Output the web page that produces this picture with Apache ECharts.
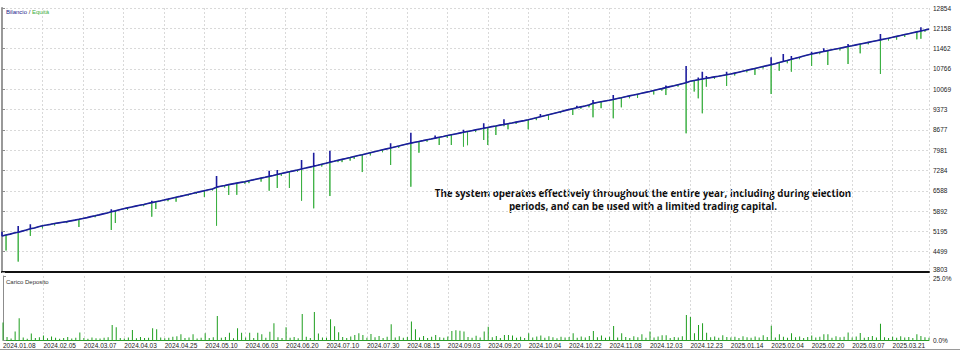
<!DOCTYPE html>
<html>
<head>
<meta charset="utf-8">
<title>Bilancio / Equità</title>
<script src="https://cdn.jsdelivr.net/npm/echarts@6/dist/echarts.min.js"></script>
<style>
	html, body {margin: 0; padding: 0; background: #fff;}
	#chart {width: 960px; height: 355px;}
</style>
</head>
<body>
<div id="chart"></div>
<script>
// date labels, one every 10 deals
var xLabels = ['2024.01.08','2024.02.05','2024.03.07','2024.04.03','2024.04.25','2024.05.10','2024.06.03','2024.06.20',
	'2024.07.10','2024.07.30','2024.08.15','2024.09.03','2024.09.20','2024.10.04','2024.10.22','2024.11.08',
	'2024.12.03','2024.12.23','2025.01.14','2025.02.04','2025.02.20','2025.03.07','2025.03.21'];
var yLabels = ['3803','4499','5195','5892','6588','7284','7981','8677','9373','10069','10766','11462','12158','12854'];

// balance after each deal
var balance = [
	5040, 5072, 5101, 5140, 5168, 5205, 5240, 5283, 5311, 5352,
	5390, 5412, 5437, 5465, 5488, 5511, 5530, 5556, 5581, 5610,
	5640, 5668, 5702, 5731, 5762, 5796, 5829, 5866, 5898, 5935,
	5970, 6001, 6029, 6061, 6090, 6118, 6150, 6181, 6212, 6240,
	6270, 6301, 6333, 6365, 6396, 6429, 6461, 6493, 6526, 6558,
	6590, 6621, 6650, 6712, 6740, 6768, 6798, 6825, 6851, 6876,
	6900, 6932, 6961, 6992, 7021, 7050, 7082, 7113, 7145, 7178,
	7210, 7242, 7270, 7301, 7335, 7366, 7398, 7431, 7462, 7497,
	7530, 7566, 7598, 7631, 7664, 7696, 7728, 7761, 7794, 7826,
	7860, 7893, 7926, 7958, 7991, 8024, 8057, 8090, 8123, 8157,
	8190, 8221, 8250, 8278, 8306, 8335, 8363, 8392, 8421, 8450,
	8480, 8508, 8536, 8564, 8592, 8620, 8648, 8676, 8703, 8731,
	8760, 8786, 8811, 8838, 8862, 8888, 8914, 8941, 8967, 8993,
	9020, 9054, 9089, 9125, 9160, 9195, 9230, 9265, 9300, 9335,
	9370, 9402, 9433, 9465, 9497, 9530, 9585, 9614, 9641, 9666,
	9690, 9719, 9751, 9779, 9811, 9842, 9869, 9900, 9931, 9961,
	9990, 10024, 10058, 10090, 10125, 10158, 10190, 10224, 10258, 10292,
	10340, 10366, 10392, 10418, 10443, 10467, 10492, 10516, 10541, 10565,
	10590, 10622, 10654, 10686, 10718, 10750, 10782, 10814, 10846, 10878,
	10910, 10946, 10983, 11020, 11057, 11094, 11131, 11168, 11205, 11243,
	11280, 11308, 11336, 11364, 11392, 11420, 11448, 11476, 11504, 11532,
	11560, 11589, 11618, 11647, 11676, 11705, 11734, 11762, 11791, 11820,
	11850, 11881, 11912, 11943, 11974, 12005, 12036, 12067, 12098, 12130
];

// equity lows [deal, value]
var equityDips = [
	[1,4540],[4,4160],[7,5040],[10,5300],[13,5400],[16,5480],[19,5346],[23,5680],[27,5243],[28,5483],
	[31,5930],[35,6060],[37,5699],[38,5963],[41,6230],[43,6213],[46,6420],[48,6480],[50,6374],[52,6600],
	[53,5391],[55,6700],[56,6443],[58,6450],[60,6830],[61,6850],[64,6900],[66,6590],[68,6683],[69,7100],
	[71,6683],[73,7240],[74,6247],[77,5987],[79,7420],[81,6408],[83,7570],[84,7570],[86,7620],[87,7680],
	[89,7230],[91,7800],[94,7910],[96,7471],[98,8060],[101,6727],[103,7893],[105,8270],[108,8157],[110,8400],
	[111,8157],[114,8100],[115,8150],[117,8600],[119,8329],[120,8157],[122,8500],[124,8800],[125,8695],[127,8880],
	[130,8695],[132,9010],[135,9014],[138,9250],[141,9186],[143,9400],[145,9450],[146,9107],[148,9420],[151,9073],
	[153,9450],[155,9760],[157,9770],[161,9890],[163,10020],[164,9870],[167,10160],[169,8558],[171,9990],[172,9758],
	[173,9244],[174,10156],[176,10420],[179,10180],[181,10540],[184,10650],[186,10560],[188,10780],[190,9905],[192,10700],
	[194,10960],[195,10670],[197,11100],[200,10865],[202,11270],[204,10900],[207,11400],[209,10934],[212,11300],[214,11610],
	[217,10591],[219,11740],[221,11770],[223,11860],[226,11780],[227,11800],[228,12040]
];

// balance peaks [deal, value]
var balancePeaks = [
	[0,5185],[4,5380],[7,5440],[27,5953],[37,6247],[53,7094],[66,7276],[68,7300],[74,7643],[77,7893],
	[81,7962],[96,8215],[101,8579],[107,8480],[114,8680],[119,8901],[124,9040],[133,9220],[142,9500],[146,9700],
	[151,9871],[164,10200],[169,10865],[172,10470],[173,10670],[174,10520],[179,10670],[190,11164],[193,11277],[195,11208],
	[200,11356],[203,11472],[209,11620],[217,11963],[227,12190]
];

// carico deposito %
var load = [
	6.8, 1.2, 0.6, 3.3, 8.5, 1.0, 0.5, 2.5, 0.8, 1.1,
	1.8, 0.7, 1.4, 0.9, 0.5, 0.8, 1.2, 0.6, 0.9, 2.9,
	0.8, 0.5, 1.0, 0.7, 0.6, 0.9, 1.1, 5.9, 5.0, 0.8,
	0.6, 1.0, 3.9, 0.7, 1.2, 0.8, 0.9, 4.6, 4.2, 1.0,
	0.7, 0.9, 1.3, 1.5, 2.2, 0.8, 1.0, 2.2, 0.6, 0.9,
	2.6, 0.8, 1.1, 9.4, 0.9, 1.2, 2.8, 0.7, 4.6, 2.8,
	1.0, 2.8, 0.8, 2.8, 2.2, 0.9, 3.2, 6.5, 1.1, 0.8,
	5.0, 0.9, 1.2, 0.7, 10.2, 1.3, 0.8, 10.9, 2.5, 1.0,
	0.9, 8.1, 5.4, 3.0, 1.2, 0.8, 1.4, 2.0, 2.6, 2.0,
	0.9, 2.3, 1.1, 1.6, 0.8, 1.3, 6.2, 1.0, 1.5, 0.9,
	1.2, 7.2, 4.2, 1.0, 1.6, 0.8, 1.3, 2.0, 1.1, 0.9,
	1.4, 3.5, 3.8, 3.6, 3.3, 1.2, 0.9, 1.7, 1.0, 3.3,
	5.2, 1.1, 1.6, 0.8, 2.0, 2.0, 1.8, 0.9, 1.3, 0.8,
	2.6, 1.0, 1.4, 1.8, 0.9, 1.5, 1.1, 0.7, 1.3, 1.0,
	1.2, 2.6, 0.9, 1.4, 1.0, 1.6, 3.5, 1.1, 1.8, 0.9,
	1.3, 5.5, 1.0, 2.6, 1.2, 0.8, 1.5, 1.1, 2.2, 0.9,
	3.3, 1.0, 1.4, 1.9, 1.9, 0.8, 1.2, 1.0, 1.5, 9.8,
	9.0, 2.6, 5.9, 6.5, 2.8, 1.1, 1.4, 0.9, 1.9, 1.2,
	1.0, 1.3, 0.8, 1.5, 1.1, 0.9, 1.4, 1.0, 1.9, 1.2,
	5.6, 1.0, 2.2, 1.3, 0.9, 2.6, 1.1, 1.4, 0.8, 1.2,
	1.8, 1.0, 1.3, 2.2, 2.2, 0.9, 1.5, 1.1, 1.3, 2.9,
	1.0, 1.4, 2.7, 0.9, 1.2, 1.6, 1.0, 6.3, 1.1, 0.8,
	1.3, 0.9, 1.5, 1.0, 1.2, 0.8, 2.2, 1.6, 1.1, 0.9
];

var chart = (function (echarts) {
	var yMin = 3803, yMax = 12854;
	var yStep = (yMax - yMin) / (yLabels.length - 1);
	var lastIdx = balance.length - 1;

	function merge(a, b) {
		var o = {}, k;
		for (k in a) o[k] = a[k];
		for (k in b) o[k] = b[k];
		return o;
	}
	// vertical spikes: go out to the extreme value and back on the same deal
	function spikeLine(base, extra) {
		var map = {};
		for (var j = 0; j < extra.length; j++) {
			map[extra[j][0]] = extra[j][1];
		}
		var out = [];
		for (var i = 0; i < base.length; i++) {
			out.push([i, base[i]]);
			if (map[i] != null) {
				out.push([i, map[i]]);
				out.push([i, base[i]]);
			}
		}
		return out;
	}
	var loadData = [];
	for (var i = 0; i < load.length; i++) {
		loadData.push([i, load[i]]);
	}

	var gridColor = '#d9d9d9';
	var axisColor = '#8c8c8c';
	var labelStyle = {fontSize: 6.5, color: '#222', fontFamily: 'Liberation Sans, Arial, sans-serif'};

	var ec = echarts.init(document.getElementById('chart'), null, {renderer: 'svg'});
	ec.setOption({
		animation: false,
		backgroundColor: '#fff',
		textStyle: {fontFamily: 'Liberation Sans, Arial, sans-serif'},
		title: [
			{
				text: '{b|Bilancio}{s| / }{g|Equità}',
				left: 1, top: 4,
				textStyle: {
					fontWeight: 'normal',
					rich: {
						b: {fontSize: 6, fontWeight: 'normal', color: '#1c1c8c'},
						s: {fontSize: 6, fontWeight: 'normal', color: '#333'},
						g: {fontSize: 6, fontWeight: 'normal', color: '#3cb043'}
					}
				}
			},
			{
				text: 'Carico Deposito',
				left: 1, top: 274,
				textStyle: {fontSize: 6, fontWeight: 'normal', color: '#333'}
			}
		],
		grid: [
			{left: 2, right: 31, top: 8, height: 264},
			{left: 2, right: 31, top: 276, height: 64}
		],
		xAxis: [
			{
				type: 'value', gridIndex: 0, min: 0, max: lastIdx, interval: 10,
				axisLine: {show: true, onZero: false, lineStyle: {color: '#111', width: 2}},
				axisTick: {show: false},
				axisLabel: {show: false},
				splitLine: {show: true, lineStyle: {color: gridColor, type: [2, 2], width: 1}}
			},
			{
				type: 'value', gridIndex: 1, min: 0, max: lastIdx, interval: 10,
				axisLine: {show: true, onZero: false, lineStyle: {color: '#2a9d2a', width: 1}},
				axisTick: {show: false},
				axisLabel: merge({
					margin: 2, align: 'left', showMaxLabel: false,
					formatter: function (v) {
						return v % 10 === 0 ? (xLabels[v / 10] || '') : '';
					}
				}, labelStyle),
				splitLine: {show: true, lineStyle: {color: gridColor, type: [2, 2], width: 1}}
			}
		],
		yAxis: [
			{
				type: 'value', gridIndex: 0, position: 'right', min: yMin, max: yMax, interval: yStep,
				axisLine: {show: true, lineStyle: {color: axisColor}},
				axisTick: {show: true, length: 3, lineStyle: {color: axisColor}},
				axisLabel: merge({
					margin: 4,
					formatter: function (v) {
						var k = Math.round((v - yMin) / yStep);
						// bottom label sits just above the panel split
						return k === 0 ? '{lo|' + yLabels[0] + '}' : (yLabels[k] || '');
					},
					rich: {lo: {fontSize: 6.5, color: '#222', padding: [0, 0, 6, 0]}}
				}, labelStyle),
				splitLine: {show: true, lineStyle: {color: gridColor, type: [2, 2], width: 1}}
			},
			{
				type: 'value', gridIndex: 0, position: 'left', min: yMin, max: yMax,
				axisLine: {show: true, lineStyle: {color: '#999', width: 2}},
				axisTick: {show: false}, axisLabel: {show: false}, splitLine: {show: false}
			},
			{
				type: 'value', gridIndex: 1, position: 'right', min: 0, max: 25, interval: 25,
				axisLine: {show: true, lineStyle: {color: axisColor}},
				axisTick: {show: true, length: 3, lineStyle: {color: axisColor}},
				axisLabel: merge({
					margin: 4,
					formatter: function (v) {
						return v > 0 ? '{hi|' + v.toFixed(1) + '%}' : v.toFixed(1) + '%';
					},
					rich: {hi: {fontSize: 6.5, color: '#222', padding: [5, 0, 0, 0]}}
				}, labelStyle),
				splitLine: {show: false}
			}
		],
		graphic: [
			{
				type: 'text', silent: true,
				style: {
					x: 643, y: 187,
					text: 'The system operates effectively throughout the entire year, including during election\nperiods, and can be used with a limited trading capital.',
					textAlign: 'center',
					fill: '#111',
					font: 'bold 9.8px "Open Sans", "Noto Sans", sans-serif',
					lineHeight: 13
				}
			},
			{
				type: 'line', silent: true,
				shape: {x1: 0, y1: 349.5, x2: 960, y2: 349.5},
				style: {stroke: '#9a9a9a', lineWidth: 1}
			}
		],
		series: [
			{
				name: 'Equità', type: 'line', xAxisIndex: 0, yAxisIndex: 0,
				data: spikeLine(balance, equityDips),
				showSymbol: false, z: 2,
				lineStyle: {color: '#3cb043', width: 1}
			},
			{
				name: 'Bilancio', type: 'line', xAxisIndex: 0, yAxisIndex: 0,
				data: spikeLine(balance, balancePeaks),
				showSymbol: false, z: 3,
				lineStyle: {color: '#1c1c9e', width: 1.6}
			},
			{
				name: 'Carico Deposito', type: 'bar', xAxisIndex: 1, yAxisIndex: 2,
				data: loadData, barWidth: 1,
				itemStyle: {color: '#1e9e1e'}
			}
		]
	});
	return ec;
})(echarts);
</script>
</body>
</html>
